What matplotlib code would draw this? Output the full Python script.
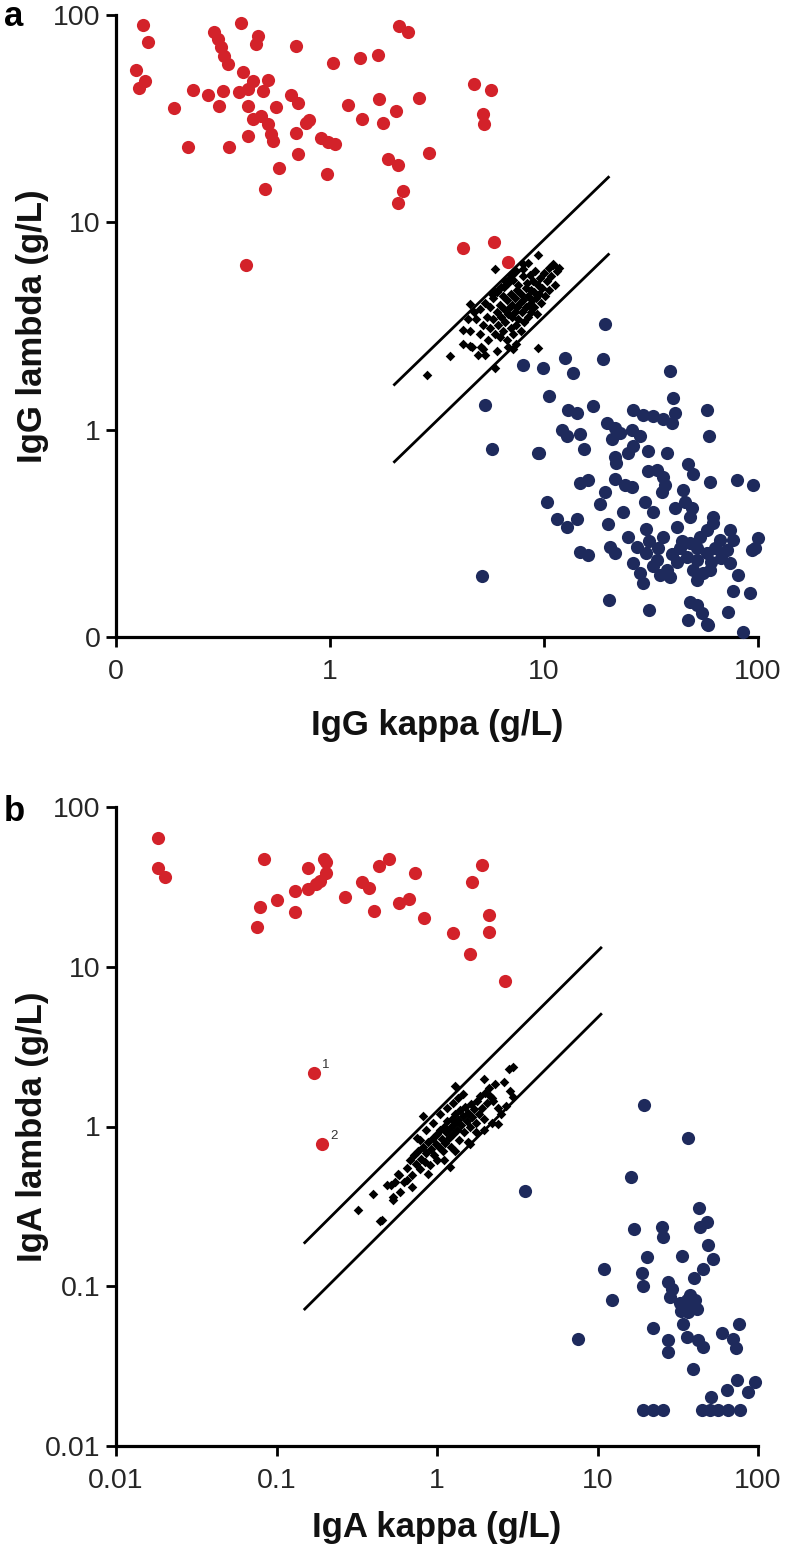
import numpy as np
import matplotlib
matplotlib.use("Agg")
import matplotlib.pyplot as plt
from matplotlib.ticker import FixedLocator, FixedFormatter, NullLocator

plt.rcParams['font.family'] = ['Liberation Sans', 'DejaVu Sans']

# --- DATA (g/L) ---
# panel a: IgG
igg_lambda_mono = [  # red: lambda monoclonal (kappa, lambda)
    (0.133, 89.5), (0.141, 73.8), (0.124, 54.2), (0.136, 48.2), (0.128, 44.7), (0.187, 35.5),
    (0.23, 43.4), (0.268, 41.2), (0.315, 43.1), (0.302, 36.5), (0.216, 23.1), (0.339, 23.0),
    (0.288, 83), (0.30, 76.6), (0.31, 69.8), (0.32, 63.5), (0.333, 58), (0.384, 92),
    (0.459, 79.4), (0.451, 72.4), (0.391, 53.2), (0.435, 48.2), (0.512, 48.8), (0.485, 43.1),
    (0.377, 42.4), (0.412, 44), (0.412, 36.5), (0.435, 31.5), (0.476, 32.7), (0.512, 29.7),
    (0.53, 26.6), (0.54, 24.7), (0.56, 36.1), (0.412, 26.1), (0.658, 41.1), (0.706, 37.8),
    (0.8, 31.2), (0.773, 30.3), (0.693, 27.1), (0.693, 70.6), (0.706, 21.3), (0.575, 18.2),
    (0.498, 14.4), (0.405, 6.2), (0.908, 25.4), (0.977, 24.3), (1.06, 24.0), (0.966, 17.1),
    (1.03, 59), (1.22, 36.7), (1.41, 31.5), (1.38, 61.7), (1.68, 64.3), (1.70, 39.5),
    (2.03, 34.5), (1.76, 30.3), (1.86, 20.1), (2.07, 18.8), (2.19, 14.2), (2.07, 12.4),
    (2.11, 88.7), (2.31, 83), (2.6, 40), (2.91, 21.7), (4.72, 46.4), (5.65, 43.4),
    (5.17, 33.2), (5.26, 29.7), (4.2, 7.5), (5.86, 8.07), (6.76, 6.44),
]
igg_kappa_mono = [  # navy: kappa monoclonal
    (19.3, 3.22), (18.9, 2.18), (12.5, 2.22), (9.93, 1.99), (8.0, 2.06), (13.7, 1.88), (10.5, 1.46),
    (5.3, 1.32), (38.8, 1.91), (39.9, 1.42), (5.7, 0.81), (9.5, 0.77), (57.5, 1.24), (59.2, 0.935),
    (16.9, 1.30), (13.0, 1.25), (14.2, 1.20), (26.1, 1.25), (29.1, 1.18), (32.4, 1.16), (36.1, 1.12),
    (40.9, 1.20), (39.5, 1.08), (19.6, 1.08), (12.1, 1.0), (12.8, 0.93), (14.7, 0.95), (15.3, 0.81),
    (21.5, 1.02), (22.6, 0.96), (25.7, 1.0), (28.1, 0.93), (20.7, 0.90), (26.1, 0.83), (30.7, 0.79),
    (37.4, 0.77), (24.8, 0.77), (21.5, 0.74), (21.8, 0.69), (9.4, 0.77), (30.7, 0.63), (33.6, 0.64),
    (36.1, 0.59), (36.7, 0.54), (35.5, 0.50), (47.2, 0.68), (49.8, 0.61), (59.7, 0.56), (79.4, 0.57),
    (94.4, 0.54), (14.7, 0.55), (16.1, 0.57), (21.5, 0.58), (23.9, 0.54), (25.7, 0.53), (19.3, 0.50),
    (18.3, 0.44), (44.8, 0.51), (10.3, 0.45), (23.5, 0.40), (29.6, 0.45), (32.4, 0.40), (40.9, 0.42),
    (45.6, 0.45), (49.0, 0.42), (48.1, 0.38), (41.7, 0.34), (61.8, 0.38), (11.5, 0.37), (12.8, 0.34),
    (14.2, 0.37), (20.0, 0.35), (30.1, 0.33), (24.8, 0.305), (27.1, 0.273), (30.1, 0.253), (33.6, 0.235),
    (36.1, 0.305), (26.1, 0.227), (28.1, 0.203), (29.1, 0.182), (32.4, 0.219), (37.4, 0.211), (38.8, 0.195),
    (20.3, 0.273), (21.5, 0.253), (14.7, 0.258), (16.1, 0.249), (43.2, 0.268), (48.1, 0.284), (53.6, 0.305),
    (57.5, 0.329), (61.8, 0.354), (46.4, 0.244), (51.6, 0.235), (57.5, 0.253), (49.8, 0.211), (55.5, 0.203),
    (59.7, 0.211), (51.6, 0.188), (66.4, 0.294), (74.0, 0.329), (76.6, 0.294), (71.3, 0.263), (74.0, 0.227),
    (80.9, 0.2), (100, 0.30), (96.8, 0.268), (93.3, 0.263), (91.8, 0.163), (76.6, 0.166), (72.6, 0.132),
    (48.1, 0.148), (51.6, 0.143), (54.5, 0.130), (57.5, 0.116), (47.2, 0.121), (31.0, 0.135), (20.2, 0.151),
    (85.3, 0.106), (5.12, 0.197), (58.5, 0.114), (34.0, 0.27), (39.5, 0.25), (42.0, 0.23), (44.0, 0.29),
    (52.0, 0.27), (63.0, 0.27), (35.0, 0.20), (31.0, 0.29), (60.0, 0.23), (67.0, 0.24),
]
igg_polyclonal = [  # black diamonds: polyclonal
    (4.5, 3.0), (4.8, 3.4), (5.0, 2.9), (5.0, 3.8), (5.2, 3.2), (5.3, 4.1), (5.4, 3.5), (5.5, 2.7),
    (5.6, 3.9), (5.6, 3.1), (5.8, 4.3), (5.8, 3.4), (5.9, 2.9), (6.0, 3.7), (6.0, 4.6), (6.1, 3.2),
    (6.2, 4.0), (6.2, 2.8), (6.3, 3.5), (6.4, 4.4), (6.4, 3.0), (6.5, 3.8), (6.5, 4.9), (6.6, 3.3),
    (6.7, 4.2), (6.7, 2.7), (6.8, 3.6), (6.8, 5.1), (6.9, 3.9), (7.0, 3.1), (7.0, 4.5), (7.1, 3.5),
    (7.1, 4.0), (7.2, 2.9), (7.2, 5.3), (7.3, 3.7), (7.3, 4.3), (7.4, 3.2), (7.5, 4.7), (7.5, 3.9),
    (7.6, 3.4), (7.6, 5.0), (7.7, 4.1), (7.8, 3.0), (7.8, 4.5), (7.9, 3.7), (8.0, 5.5), (8.0, 4.2),
    (8.1, 3.3), (8.2, 4.8), (8.2, 3.9), (8.3, 5.1), (8.4, 3.5), (8.4, 4.4), (8.5, 4.0), (8.6, 5.6),
    (8.7, 3.7), (8.7, 4.7), (8.8, 4.2), (8.9, 5.2), (9.0, 3.9), (9.0, 4.6), (9.1, 5.8), (9.2, 4.3),
    (9.3, 3.6), (9.4, 5.0), (9.5, 4.5), (9.6, 5.4), (9.7, 4.1), (9.8, 4.8), (10.0, 5.7), (10.1, 4.4),
    (10.3, 5.2), (10.5, 6.0), (10.6, 4.7), (10.8, 5.5), (11.0, 6.2), (11.2, 5.0), (11.5, 5.8), (11.8, 6.0),
    (4.2, 2.6), (4.4, 3.4), (4.6, 2.5), (4.7, 3.7), (4.9, 2.3), (5.1, 2.5), (5.3, 2.3), (6.0, 2.4),
    (6.8, 2.5), (7.4, 2.6), (5.7, 4.5), (6.3, 4.9), (6.9, 5.4), (7.4, 5.8), (6.1, 4.7), (5.9, 4.6),
    (6.6, 5.2), (8.0, 6.3), (7.1, 5.6), (8.4, 6.4), (2.83, 1.84), (3.64, 2.26), (5.9, 1.99), (9.4, 2.48),
    (9.4, 6.93), (11.0, 6.27), (4.51, 4.02), (4.2, 3.04), (4.51, 2.52), (5.2, 2.45), (7.19, 2.45),
    (8.0, 5.93), (5.9, 5.93),
]
igg_ratio_kappa = [2, 20]
igg_ratio_limits = [0.825, 0.35]  # lambda/kappa of the two reference lines

# panel b: IgA
iga_lambda_mono = [
    (0.0182, 64.3), (0.0182, 41.8), (0.0203, 36.5), (0.084, 47.1), (0.0789, 23.7), (0.0753, 17.8),
    (0.1, 26.1), (0.13, 29.9), (0.13, 22.1), (0.158, 41.8), (0.158, 30.6), (0.176, 32.9),
    (0.199, 47.1), (0.204, 45), (0.204, 38.8), (0.187, 34.5), (0.268, 27.4), (0.341, 34.1),
    (0.378, 31.0), (0.407, 22.2), (0.437, 42.8), (0.5, 47.5), (0.577, 25.2), (0.673, 26.5),
    (0.733, 38.8), (0.834, 20.3), (1.25, 16.2), (1.61, 12.1), (1.65, 34.0), (1.9, 43.2),
    (2.12, 21.1), (2.1, 16.5), (2.67, 8.09),
]
iga_lambda_flagged = [(0.171, 2.17), (0.191, 0.78)]
iga_flag_labels = ['1', '2']
iga_kappa_mono = [
    (19.6, 1.37), (36.8, 0.85), (16.2, 0.48), (7.53, 0.0465), (3.53, 0.395), (43.1, 0.308),
    (43.5, 0.235), (47.9, 0.253), (16.9, 0.229), (25.1, 0.235), (25.7, 0.203), (49.0, 0.180),
    (52.2, 0.149), (33.4, 0.154), (20.2, 0.152), (10.9, 0.129), (18.8, 0.121), (19.1, 0.101),
    (12.4, 0.0818), (45.6, 0.129), (39.9, 0.112), (27.6, 0.106), (29.0, 0.0966), (28.3, 0.0857),
    (32.7, 0.078), (35.9, 0.0818), (40.5, 0.0818), (41.5, 0.0725), (36.8, 0.069), (34.3, 0.0584),
    (35.9, 0.0482), (22.3, 0.0551), (27.6, 0.046), (27.6, 0.0388), (42.5, 0.046), (45.6, 0.0417),
    (59.3, 0.0511), (76.4, 0.0584), (72.9, 0.0408), (70, 0.047), (39.5, 0.0302), (73.6, 0.0259),
    (63.8, 0.0224), (95.7, 0.0252), (87.1, 0.0218), (50.7, 0.0203), (19.3, 0.0169), (22.3, 0.0169),
    (25.5, 0.0169), (45.0, 0.0169), (56.6, 0.0169), (65.3, 0.0169), (77.3, 0.0169), (50.5, 0.0169),
    (38.0, 0.075), (33.0, 0.07), (37.5, 0.088),
]
iga_polyclonal = [
    (0.324, 0.299), (0.401, 0.379), (0.441, 0.256), (0.534, 0.361), (0.546, 0.449), (0.486, 0.433),
    (0.52, 0.433), (0.588, 0.388), (0.534, 0.345), (0.452, 0.258), (0.574, 0.506), (0.647, 0.46),
    (1.2, 0.557), (0.883, 0.506), (1.61, 0.78), (2.41, 1.04), (2.99, 1.52), (2.85, 1.68),
    (2.79, 2.29), (2.99, 2.35), (1.95, 1.99), (2.14, 1.56), (2.24, 1.45), (1.29, 1.80),
    (0.822, 1.17), (0.784, 0.818),
    (0.65, 0.55), (0.68, 0.62), (0.70, 0.50), (0.72, 0.66), (0.74, 0.58), (0.76, 0.70), (0.78, 0.54),
    (0.80, 0.63), (0.82, 0.74), (0.84, 0.60), (0.86, 0.68), (0.88, 0.80), (0.90, 0.57), (0.92, 0.72),
    (0.94, 0.85), (0.96, 0.66), (0.98, 0.78), (1.00, 0.90), (1.00, 0.62), (1.03, 0.74), (1.05, 0.95),
    (1.07, 0.84), (1.09, 0.70), (1.10, 1.00), (1.12, 0.79), (1.14, 0.92), (1.16, 1.08), (1.18, 0.85),
    (1.20, 0.98), (1.22, 0.74), (1.24, 1.12), (1.26, 0.90), (1.28, 1.04), (1.30, 1.20), (1.33, 0.95),
    (1.35, 1.10), (1.38, 0.82), (1.40, 1.26), (1.42, 1.02), (1.45, 1.16), (1.48, 0.92), (1.50, 1.32),
    (1.53, 1.08), (1.56, 1.22), (1.60, 1.00), (1.63, 1.38), (1.66, 1.14), (1.70, 1.28), (1.74, 1.05),
    (1.78, 1.45), (1.82, 1.20), (1.86, 1.55), (1.90, 1.30), (1.95, 1.12), (2.00, 1.62), (2.05, 1.40),
    (2.10, 1.75), (2.20, 1.50), (2.30, 1.85), (2.40, 1.30), (0.95, 1.05), (1.05, 1.20), (1.15, 1.30),
    (1.25, 1.40), (0.85, 0.95), (1.35, 1.50), (1.45, 1.60), (0.75, 0.85), (1.10, 0.62), (1.30, 0.70),
    (1.55, 0.80), (1.75, 0.92), (0.70, 0.42), (0.62, 0.45), (0.58, 0.50), (1.95, 0.95), (2.20, 1.05),
    (2.50, 1.20), (2.70, 1.35), (2.60, 1.90),
]
iga_ratio_kappa = [0.15, 10.5]
iga_ratio_limits = [1.25, 0.48]

RED = '#d3222a'
NAVY = '#1e2a5c'
DOT = 90
DIAMOND = 24


def xy(pairs):
    a = np.array(pairs, dtype=float)
    return a[:, 0], a[:, 1]


def style_axis(ax, ticks, labels, xlabel, ylabel):
    ax.set_xscale('log')
    ax.set_yscale('log')
    ax.set_xlim(ticks[0], ticks[-1])
    ax.set_ylim(ticks[0], ticks[-1])
    for axis in (ax.xaxis, ax.yaxis):
        axis.set_major_locator(FixedLocator(ticks))
        axis.set_major_formatter(FixedFormatter(labels))
        axis.set_minor_locator(NullLocator())
    ax.spines['top'].set_visible(False)
    ax.spines['right'].set_visible(False)
    for s in ('left', 'bottom'):
        ax.spines[s].set_linewidth(2.3)
    ax.tick_params(direction='out', length=7, width=2.0, labelsize=20.5,
                   color='black', labelcolor='#262626')
    ax.tick_params(axis='x', pad=9)
    ax.tick_params(axis='y', pad=4)
    ax.set_xlabel(xlabel, fontsize=25, fontweight='bold', color='#111111')
    ax.set_ylabel(ylabel, fontsize=25, fontweight='bold', color='#111111')


fig = plt.figure(figsize=(7.89, 15.57), dpi=100)
ax_a = fig.add_axes([116 / 789, 1 - 637 / 1557, 642 / 789, 622 / 1557])
ax_b = fig.add_axes([116 / 789, 1 - 1446 / 1557, 642 / 789, 639 / 1557])

# --- panel a ---
for r in igg_ratio_limits:
    ax_a.plot(igg_ratio_kappa, [k * r for k in igg_ratio_kappa], color='black', lw=2.0, zorder=2)
x, y = xy(igg_polyclonal)
ax_a.scatter(x, y, marker='D', s=DIAMOND, color='black', lw=0, zorder=3)
x, y = xy(igg_lambda_mono)
ax_a.scatter(x, y, s=DOT, color=RED, lw=0, zorder=4, clip_on=False)
x, y = xy(igg_kappa_mono)
ax_a.scatter(x, y, s=DOT, color=NAVY, lw=0, zorder=4, clip_on=False)
style_axis(ax_a, [0.1, 1, 10, 100], ['0', '1', '10', '100'], 'IgG kappa (g/L)', 'IgG lambda (g/L)')
ax_a.xaxis.set_label_coords(0.5, -0.115)
ax_a.yaxis.set_label_coords(-0.104, 0.5)

# --- panel b ---
for r in iga_ratio_limits:
    ax_b.plot(iga_ratio_kappa, [k * r for k in iga_ratio_kappa], color='black', lw=2.0, zorder=2)
x, y = xy(iga_polyclonal)
ax_b.scatter(x, y, marker='D', s=DIAMOND, color='black', lw=0, zorder=3)
x, y = xy(iga_lambda_mono)
ax_b.scatter(x, y, s=DOT, color=RED, lw=0, zorder=4, clip_on=False)
x, y = xy(iga_lambda_flagged)
ax_b.scatter(x, y, s=DOT, color=RED, lw=0, zorder=4)
for (px, py), lab in zip(iga_lambda_flagged, iga_flag_labels):
    ax_b.annotate(lab, (px, py), xytext=(6, 1), textcoords='offset points',
                  ha='left', va='bottom', fontsize=9.5, color='#333333')
x, y = xy(iga_kappa_mono)
ax_b.scatter(x, y, s=DOT, color=NAVY, lw=0, zorder=4, clip_on=False)
ticks_b = [0.01, 0.1, 1, 10, 100]
style_axis(ax_b, ticks_b, ['0.01', '0.1', '1', '10', '100'], 'IgA kappa (g/L)', 'IgA lambda (g/L)')
ax_b.xaxis.set_label_coords(0.5, -0.102)
ax_b.yaxis.set_label_coords(-0.104, 0.5)

# panel letters
fig.text(14 / 789, 1 - 16 / 1557, 'a', ha='center', va='center', fontsize=25, fontweight='bold')
fig.text(14 / 789, 1 - 811 / 1557, 'b', ha='center', va='center', fontsize=25, fontweight='bold')

fig.savefig('out.png', dpi=100, facecolor='white')
